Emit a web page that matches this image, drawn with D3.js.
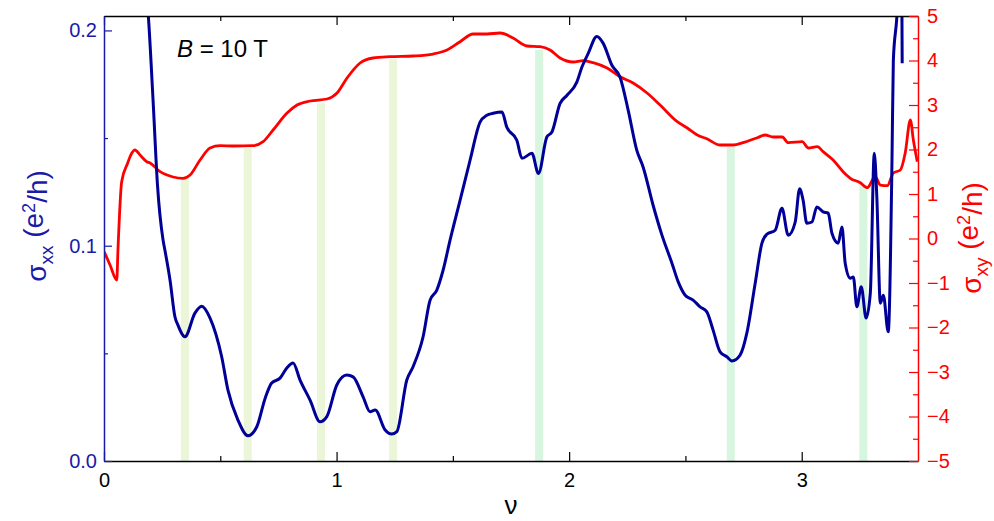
<!DOCTYPE html>
<html>
<head>
<meta charset="utf-8">
<script src="https://cdn.jsdelivr.net/npm/d3@7"></script>
<style>
  html, body { margin: 0; padding: 0; background: #fff; }
  svg { display: block; font-family: "Liberation Sans", Arial, sans-serif; }
</style>
</head>
<body>
<svg id="chart" width="994" height="521"></svg>
<script>
// Filling factor axis
const nuDomain = [0, 3.5];
const nuMajor = [0, 1, 2, 3];
const nuMinor = [0.5, 1.5, 2.5];

// Longitudinal conductivity sigma_xx (e^2/h)
const sxxMajor = [0.0, 0.1, 0.2];
const sxxMinor = [0.05, 0.15];
const nuXX = [0.165, 0.191, 0.211, 0.230, 0.254, 0.262, 0.284, 0.305, 0.318, 0.348,
  0.391, 0.420, 0.456, 0.506, 0.533, 0.576, 0.619, 0.657, 0.693, 0.721,
  0.757, 0.786, 0.813, 0.843, 0.886, 0.929, 0.958, 1.001, 1.044, 1.071,
  1.114, 1.144, 1.166, 1.209, 1.237, 1.259, 1.302, 1.329, 1.372, 1.402,
  1.431, 1.458, 1.488, 1.531, 1.574, 1.617, 1.646, 1.673, 1.711, 1.732,
  1.775, 1.797, 1.840, 1.868, 1.904, 1.926, 1.961, 1.990, 2.033, 2.055,
  2.082, 2.119, 2.146, 2.184, 2.219, 2.254, 2.291, 2.318, 2.361, 2.399,
  2.442, 2.469, 2.499, 2.533, 2.563, 2.592, 2.619, 2.649, 2.678, 2.700,
  2.735, 2.764, 2.800, 2.829, 2.850, 2.886, 2.915, 2.942, 2.972, 2.991,
  3.006, 3.022, 3.044, 3.065, 3.092, 3.114, 3.130, 3.157, 3.173, 3.187,
  3.209, 3.222, 3.237, 3.256, 3.277, 3.295, 3.312, 3.323, 3.338, 3.351,
  3.372, 3.388, 3.394, 3.409, 3.415, 3.428, 3.431, 3.432];
const sigmaXX = [0.235, 0.2062, 0.1675, 0.1281, 0.1026, 0.0979, 0.0840, 0.0670, 0.0631, 0.0577,
  0.0687, 0.0719, 0.0664, 0.0484, 0.0329, 0.0190, 0.0117, 0.0159, 0.0292, 0.0362,
  0.0385, 0.0432, 0.0455, 0.0376, 0.0283, 0.0182, 0.0206, 0.0353, 0.0399, 0.0391,
  0.0298, 0.0229, 0.0237, 0.0144, 0.0125, 0.0136, 0.0376, 0.0438, 0.0577, 0.0747,
  0.0794, 0.0886, 0.1026, 0.1211, 0.1397, 0.1574, 0.1606, 0.1615, 0.1621, 0.1551,
  0.1490, 0.1406, 0.1429, 0.1335, 0.1505, 0.1528, 0.1661, 0.1698, 0.1760, 0.1830,
  0.1893, 0.1972, 0.1941, 0.1838, 0.1783, 0.1629, 0.1443, 0.1366, 0.1188, 0.1049,
  0.0919, 0.0832, 0.0770, 0.0747, 0.0716, 0.0693, 0.0608, 0.0507, 0.0484, 0.0465,
  0.0492, 0.0594, 0.0826, 0.1012, 0.1053, 0.1072, 0.1174, 0.1049, 0.1110, 0.1265,
  0.1211, 0.1104, 0.1110, 0.1180, 0.1157, 0.1151, 0.1058, 0.1012, 0.1087, 0.0919,
  0.0849, 0.0855, 0.0716, 0.0809, 0.0664, 0.0780, 0.1429, 0.1226, 0.0733, 0.0770,
  0.0600, 0.1383, 0.1861, 0.2062, 0.218, 0.218, 0.2062, 0.1847];

// Hall conductivity sigma_xy (e^2/h)
const sxyMajor = [-5, -4, -3, -2, -1, 0, 1, 2, 3, 4, 5];
const sxyMinor = [-4.5, -3.5, -2.5, -1.5, -0.5, 0.5, 1.5, 2.5, 3.5, 4.5];
const nuXY = [0.001, 0.026, 0.055, 0.060, 0.076, 0.102, 0.112, 0.133, 0.155, 0.184,
  0.198, 0.241, 0.297, 0.340, 0.370, 0.413, 0.456, 0.499, 0.555, 0.641,
  0.684, 0.727, 0.787, 0.830, 0.886, 0.959, 1.002, 1.045, 1.101, 1.157,
  1.230, 1.329, 1.415, 1.475, 1.531, 1.587, 1.647, 1.703, 1.759, 1.819,
  1.875, 1.918, 1.961, 2.017, 2.060, 2.103, 2.163, 2.219, 2.275, 2.335,
  2.391, 2.465, 2.508, 2.551, 2.594, 2.649, 2.705, 2.748, 2.809, 2.843,
  2.877, 2.916, 2.942, 3.002, 3.028, 3.067, 3.092, 3.135, 3.178, 3.209,
  3.252, 3.282, 3.316, 3.338, 3.368, 3.394, 3.424, 3.445, 3.467, 3.480,
  3.497];
const sigmaXY = [-0.297, -0.596, -0.933, -0.258, 1.276, 1.697, 1.838, 1.989, 1.876, 1.726,
  1.697, 1.501, 1.382, 1.353, 1.427, 1.764, 2.034, 2.085, 2.079, 2.085,
  2.175, 2.438, 2.820, 3.000, 3.090, 3.135, 3.270, 3.607, 3.944, 4.056,
  4.085, 4.101, 4.146, 4.236, 4.422, 4.596, 4.596, 4.618, 4.506, 4.326,
  4.310, 4.236, 4.056, 3.966, 3.996, 3.951, 3.831, 3.636, 3.494, 3.270,
  3.000, 2.625, 2.483, 2.326, 2.236, 2.101, 2.101, 2.153, 2.265, 2.326,
  2.281, 2.281, 2.153, 2.175, 2.034, 2.063, 1.951, 1.764, 1.501, 1.353,
  1.254, 1.142, 1.389, 1.202, 1.187, 1.472, 1.539, 1.921, 2.663, 2.213,
  1.726];

// Highlighted filling factors: position, top (in sigma_xy units) and group
const bandNu = [0.348, 0.618, 0.933, 1.243, 1.871, 2.695, 3.265];
const bandTop = [1.36, 2.03, 3.04, 4.03, 4.24, 2.06, 1.20];
const bandGroup = ["a", "a", "a", "a", "b", "b", "b"];

const fieldLabel = "10 T";

// ---------------------------------------------------------------
const svg = d3.select("#chart");
const plot = { left: 104, right: 918, top: 16, bottom: 461 };

const blue = "#000099";
const blueText = "#1a1aa8";
const red = "#ff0000";
const bandFill = { a: "#ebf6d9", b: "#d8f5df" };
const tickFont = 20;

const x = d3.scaleLinear().domain(nuDomain).range([plot.left, plot.right]);
const yL = d3.scaleLinear().domain([0, 0.2067]).range([plot.bottom, plot.top]);
const yR = d3.scaleLinear().domain([-5, 5]).range([plot.bottom, plot.top]);

svg.append("defs").append("clipPath").attr("id", "plotClip")
  .append("rect")
  .attr("x", plot.left).attr("y", plot.top)
  .attr("width", plot.right - plot.left).attr("height", plot.bottom - plot.top);

// Shaded bands
const bands = bandNu.map((v, i) => ({ nu: v, top: bandTop[i], g: bandGroup[i] }));
svg.append("g").selectAll("rect").data(bands).join("rect")
  .attr("x", d => x(d.nu) - 4)
  .attr("width", 8)
  .attr("y", d => yR(d.top))
  .attr("height", d => plot.bottom - yR(d.top))
  .attr("fill", d => bandFill[d.g]);

// Curves
const xyPts = nuXY.map((v, i) => [v, sigmaXY[i]]);
const xxPts = nuXX.map((v, i) => [v, sigmaXX[i]]);

svg.append("path")
  .datum(xyPts)
  .attr("clip-path", "url(#plotClip)")
  .attr("fill", "none").attr("stroke", red).attr("stroke-width", 2.8)
  .attr("stroke-linejoin", "round")
  .attr("d", d3.line().x(d => x(d[0])).y(d => yR(d[1])).curve(d3.curveMonotoneX));

svg.append("path")
  .datum(xxPts)
  .attr("clip-path", "url(#plotClip)")
  .attr("fill", "none").attr("stroke", blue).attr("stroke-width", 3)
  .attr("stroke-linejoin", "round")
  .attr("d", d3.line().x(d => x(d[0])).y(d => yL(d[1])).curve(d3.curveMonotoneX));

// Axes helpers
function styleAxis(g, color, showDomain) {
  g.selectAll(".tick line").attr("stroke", color).attr("stroke-width", 1.2);
  g.selectAll(".tick text").attr("fill", color)
    .attr("font-size", tickFont).attr("font-family", "Liberation Sans, Arial, sans-serif");
  g.select(".domain").attr("stroke", showDomain ? color : "none").attr("stroke-width", 1.5);
  g.attr("font-family", null).attr("font-size", null);
}

// Bottom axis
const gB = svg.append("g").attr("transform", `translate(0,${plot.bottom})`)
  .call(d3.axisBottom(x).tickValues(nuMajor).tickSize(-9).tickSizeOuter(0).tickPadding(10).tickFormat(d3.format("d")));
styleAxis(gB, "#000", true);
gB.selectAll(".tick text").attr("dy", "0.71em").attr("y", 12);
svg.append("g").attr("transform", `translate(0,${plot.bottom})`)
  .call(d3.axisBottom(x).tickValues(nuMinor).tickSize(-5).tickSizeOuter(0).tickFormat(""))
  .call(g => styleAxis(g, "#000", false));

// Top axis
svg.append("g").attr("transform", `translate(0,${plot.top})`)
  .call(d3.axisTop(x).tickValues(nuMajor).tickSize(-9).tickSizeOuter(0).tickFormat(""))
  .call(g => styleAxis(g, "#000", true));
svg.append("g").attr("transform", `translate(0,${plot.top})`)
  .call(d3.axisTop(x).tickValues(nuMinor).tickSize(-5).tickSizeOuter(0).tickFormat(""))
  .call(g => styleAxis(g, "#000", false));

// Left axis (sigma_xx)
svg.append("g").attr("transform", `translate(${plot.left},0)`)
  .call(d3.axisLeft(yL).tickValues(sxxMajor).tickSize(-8).tickSizeOuter(0).tickPadding(7).tickFormat(d3.format(".1f")))
  .call(g => styleAxis(g, blueText, true));
svg.append("g").attr("transform", `translate(${plot.left},0)`)
  .call(d3.axisLeft(yL).tickValues(sxxMinor).tickSize(-4).tickSizeOuter(0).tickFormat(""))
  .call(g => styleAxis(g, blueText, false));

// Right axis (sigma_xy)
svg.append("g").attr("transform", `translate(${plot.right},0)`)
  .call(d3.axisRight(yR).tickValues(sxyMajor).tickSize(-9).tickSizeOuter(0).tickPadding(9).tickFormat(d3.format("d")))
  .call(g => styleAxis(g, red, true));
svg.append("g").attr("transform", `translate(${plot.right},0)`)
  .call(d3.axisRight(yR).tickValues(sxyMinor).tickSize(-5).tickSizeOuter(0).tickFormat(""))
  .call(g => styleAxis(g, red, false));

// Axis titles
function sigmaTitle(g, sub) {
  const t = g.append("text").attr("text-anchor", "middle").attr("font-size", 28);
  t.append("tspan").text("σ");
  t.append("tspan").attr("font-size", 19).attr("dy", "0.35em").text(sub);
  t.append("tspan").attr("dy", "-0.35em").text(" (e");
  t.append("tspan").attr("font-size", 18).attr("dy", "-0.45em").text("2");
  t.append("tspan").attr("dy", "0.45em").text("/h)");
  return t;
}
sigmaTitle(svg.append("g").attr("transform", "translate(46,226) rotate(-90)"), "xx")
  .attr("fill", blueText);
sigmaTitle(svg.append("g").attr("transform", "translate(981,238) rotate(-90)"), "xy")
  .attr("fill", red);

svg.append("text")
  .attr("x", (plot.left + plot.right) / 2).attr("y", 514)
  .attr("text-anchor", "middle").attr("font-size", 26).attr("fill", "#000")
  .text("ν");

// Field annotation
const ann = svg.append("text").attr("x", 177).attr("y", 57).attr("font-size", 24).attr("fill", "#000");
ann.append("tspan").attr("font-style", "italic").text("B");
ann.append("tspan").text(" = " + fieldLabel);
</script>
</body>
</html>
